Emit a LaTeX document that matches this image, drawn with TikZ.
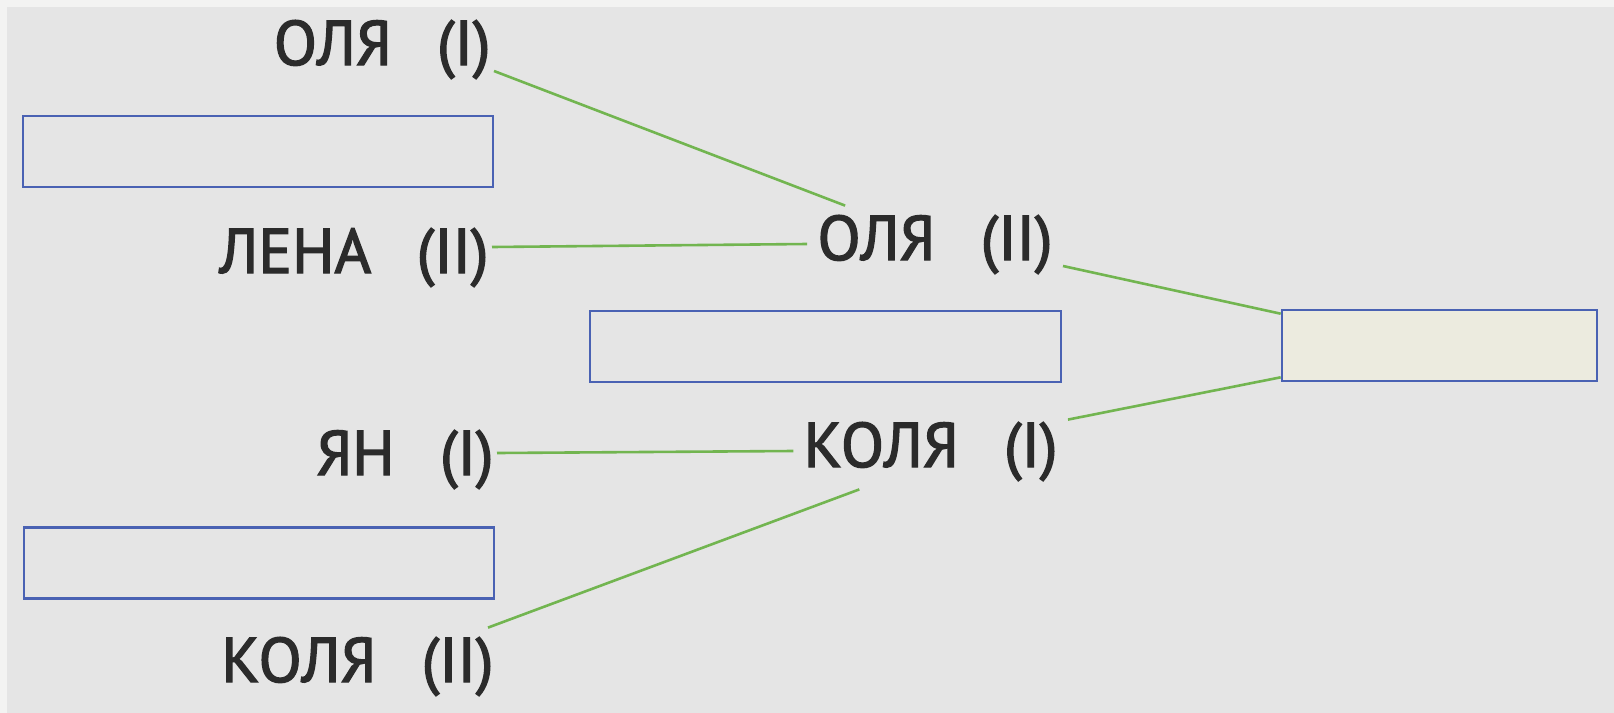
\documentclass[tikz,border=0pt]{standalone}
\usepackage{fontspec}
\setmainfont{PT Sans}
\newfontfamily\kidfont[BoldFont={PT Sans},BoldFeatures={FakeBold=2.2}]{PT Sans}
\definecolor{framegray}{HTML}{F3F3F2}
\definecolor{paper}{HTML}{E5E5E5}
\definecolor{boxblue}{HTML}{4A62B3}
\definecolor{linkgreen}{HTML}{72B550}
\definecolor{answerfill}{HTML}{ECEBDF}
\definecolor{ink}{HTML}{2B2B2B}
\newcommand{\pupil}[2]{#1\hspace{0.72em}(#2)}
\begin{document}
\begin{tikzpicture}[x=0.5pt,y=-0.5pt,
    kid/.style={anchor=base east,inner sep=5pt,text height=22pt,text depth=6pt,
      text=ink,font=\kidfont\bfseries\fontsize{31.5}{36}\selectfont},
    slotbox/.style={draw=boxblue,line width=1.3pt,minimum height=35.5pt,inner sep=0pt},
    wire/.style={linkgreen,line width=1.3pt}]
  \fill[framegray] (0,0) rectangle (1614,713);
  \fill[paper] (7,7) rectangle (1614,713);
  \useasboundingbox (0,0) rectangle (1614,713);
  \draw
    (501,65) node[kid] (olya1){\pupil{ОЛЯ}{I}}
    (499,273) node[kid] (lena){\pupil{ЛЕНА}{II}}
    (504,475) node[kid] (yan){\pupil{ЯН}{I}}
    (504,682) node[kid] (kolya2){\pupil{КОЛЯ}{II}}
    (1063,260) node[kid] (olya2){\pupil{ОЛЯ}{II}}
    (1068,467) node[kid] (kolya1){\pupil{КОЛЯ}{I}};
  \draw
    (258,151.5) node[slotbox,minimum width=235pt] (pair1){}
    (825.5,346.5) node[slotbox,minimum width=235.5pt] (pair2){}
    (259,563) node[slotbox,minimum width=235pt] (pair3){}
    (1439.5,345.5) node[slotbox,minimum width=157.5pt,fill=answerfill] (final){};
  \begin{scope}[wire]
    \draw ([xshift=-3.5pt,yshift=-11pt]olya1.east) to ([xshift=19pt]olya2.north west);
    \draw ([xshift=-3.5pt,yshift=5pt]lena.east) to (olya2.west);
    \draw ([yshift=-11pt]olya2.east) to ([yshift=-2.5pt]final.north west);
    \draw ([xshift=-3.5pt,yshift=3pt]yan.east) to (kolya1.west);
    \draw ([yshift=-3.5pt]kolya1.north east) to ([yshift=2.5pt]final.south west);
    \draw ([xshift=33pt]kolya1.south west) to ([xshift=-8pt]kolya2.north east);
  \end{scope}
\end{tikzpicture}
\end{document}
